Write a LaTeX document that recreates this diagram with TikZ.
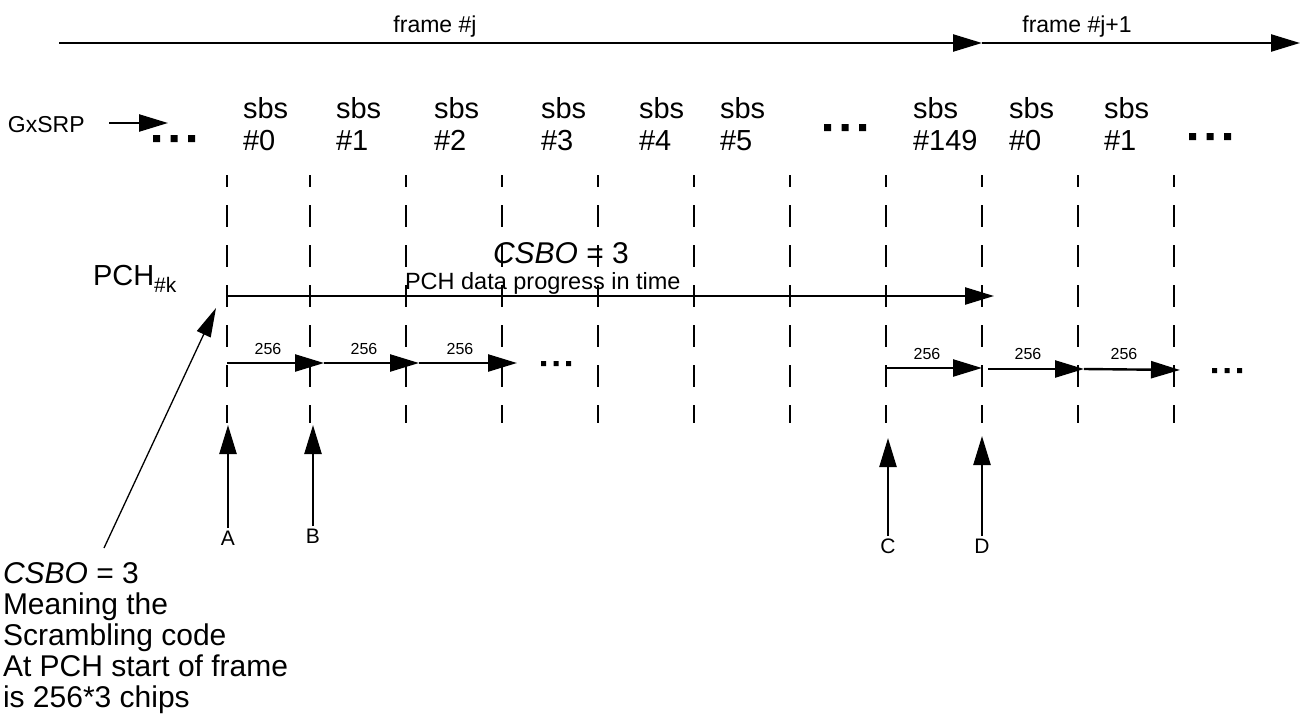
\documentclass[tikz,border=0pt]{standalone}
\usepackage{fontspec}
\setmainfont{Liberation Sans}
\usetikzlibrary{arrows.meta}
\newcommand\sqdots[3]{\fill (#1,#2) rectangle ++(#3,#3) (#1+2.5*#3,#2) rectangle ++(#3,#3) (#1+5*#3,#2) rectangle ++(#3,#3);}
\begin{document}
\begin{tikzpicture}[x=1pt,y=-1pt,
  ln/.style={line width=2.4pt},
  thin/.style={line width=1.3pt},
  tip/.style={-{Triangle[length=29pt,width=17pt]}},
  dsh/.style={line width=2.4pt,dash pattern=on 22pt off 18pt,dash phase=10pt},
  txt/.style={inner sep=0pt,outer sep=0pt},
  sbs/.style={txt,anchor=base west,align=left,font=\fontsize{29}{32}\selectfont},
  frm/.style={txt,anchor=base,font=\fontsize{23}{24}\selectfont},
  num/.style={txt,anchor=base,font=\fontsize{16}{18}\selectfont},
  let/.style={txt,anchor=north,font=\fontsize{21}{22}\selectfont},
]
\useasboundingbox (0,0) rectangle (1302,717);

% frame arrows
\coordinate (f0) at (59,43);
\coordinate (f1) at (982,43);
\coordinate (f2) at (1300,43);
\draw[ln,tip] (f0) -- (f1);
\draw[ln,tip] (f1) -- (f2);
\node[frm] (fj) at (435,33) {frame \#j};
\node[frm] (fj1) at (1077,33) {frame \#j+1};

% GxSRP
\node[txt,anchor=base west,font=\fontsize{23}{24}\selectfont] (gx) at (8,132) {GxSRP};
\coordinate (gxa) at (109,123);
\coordinate (gxb) at (168,123);
\draw[ln,tip] (gxa) -- (gxb);
\sqdots{153}{135}{7}
\sqdots{824}{124}{7}
\sqdots{1189}{133}{7}

% sbs labels (anchor = baseline of the last line)
\node[sbs] (s0) at (243,150) {sbs\\\#0};
\node[sbs] (s1) at (336,150) {sbs\\\#1};
\node[sbs] (s2) at (434,150) {sbs\\\#2};
\node[sbs] (s3) at (541,150) {sbs\\\#3};
\node[sbs] (s4) at (639,150) {sbs\\\#4};
\node[sbs] (s5) at (720,150) {sbs\\\#5};
\node[sbs] (s149) at (913,150) {sbs\\\#149};
\node[sbs] (t0) at (1009,150) {sbs\\\#0};
\node[sbs] (t1) at (1104,150) {sbs\\\#1};

% dashed boundaries
\foreach \n/\x in {a/227,b/310,c/406,d/502,e/598,f/694,g/790,h/886,i/982,j/1078,k/1174}{
  \coordinate (top\n) at (\x,175);
  \coordinate (bot\n) at (\x,423);
  \draw[dsh] (top\n) -- (bot\n);
}

% PCH
\node[txt,anchor=base west,font=\fontsize{29}{32}\selectfont] (pch) at (93,285)
  {PCH{\fontsize{21}{22}\selectfont\raisebox{-7pt}{\#k}}};
\node[txt,anchor=base,font=\fontsize{30}{32}\selectfont] (csbo) at (561,263) {\itshape CSBO\/\upshape{} = 3};
\node[txt,anchor=base west,font=\fontsize{23.5}{25}\selectfont] (prog) at (405,289) {PCH data progress in time};
\coordinate (p0) at (227,296);
\coordinate (p1) at (994,296);
\draw[ln,tip] (p0) -- (p1);

% 256 chip arrows, group 1
\coordinate (a0) at (227,363);
\coordinate (a1) at (324,363);
\coordinate (a2) at (419,363);
\coordinate (a3) at (517,363);
\draw[ln,tip] (a0) -- (a1);
\draw[ln,tip] (a1) -- (a2);
\draw[ln,tip] (a2) -- (a3);
\node[num] (n1) at (268,354) {256};
\node[num] (n2) at (364,354) {256};
\node[num] (n3) at (460,354) {256};
\sqdots{541}{361}{5}

% group 2
\coordinate (b0) at (886,368);
\coordinate (b1) at (982,368);
\coordinate (b2) at (988,369);
\coordinate (b3) at (1084,369);
\coordinate (b4) at (1180,370);
\draw[ln,tip] (b0) -- (b1);
\draw[ln,tip] (b2) -- (b3);
\draw[ln,tip] (b3) -- (b4);
\node[num] (m1) at (927,359) {256};
\node[num] (m2) at (1028,359) {256};
\node[num] (m3) at (1124,359) {256};
\sqdots{1212}{368}{5}

% A B C D markers
\node[let] (lA) at (228,531) {A};
\node[let] (lB) at (313,529) {B};
\node[let] (lC) at (888,539) {C};
\node[let] (lD) at (982,539) {D};
\coordinate (tA) at (228,425);
\coordinate (tB) at (313,425);
\coordinate (tC) at (888,438);
\coordinate (tD) at (982,436);
\draw[ln,tip] ([yshift=3pt]lA.north) -- (tA);
\draw[ln,tip] ([yshift=3pt]lB.north) -- (tB);
\draw[ln,tip] ([yshift=3pt]lC.north) -- (tC);
\draw[ln,tip] ([yshift=3pt]lD.north) -- (tD);

% explanation (anchor = baseline of the last line)
\node[txt,anchor=base west,align=left,font=\fontsize{30}{31}\selectfont] (expl) at (3,707)
  {{\itshape CSBO\/} = 3\\Meaning the\\Scrambling code\\At PCH start of frame\\is 256*3 chips};
\coordinate (d0) at (104,548);
\coordinate (d1) at (216,308);
\draw[thin,-{Triangle[length=29pt,width=15pt]}] (d0) -- (d1);
\end{tikzpicture}
\end{document}
